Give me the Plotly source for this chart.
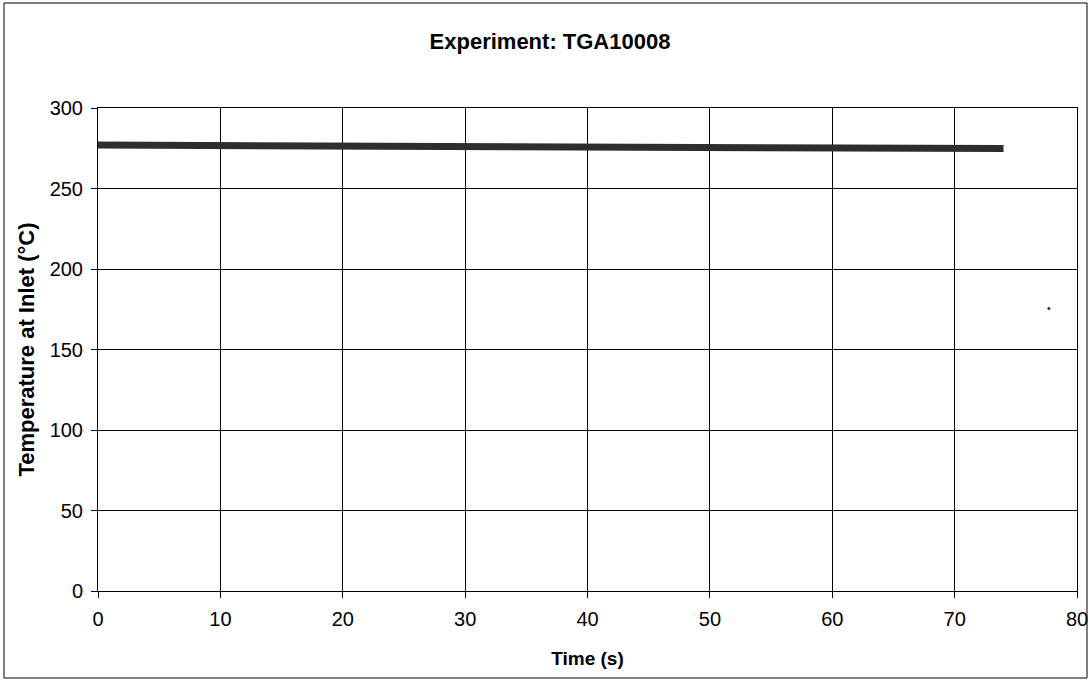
import plotly.graph_objects as go

time_s = [0, 5, 10, 15, 20, 25, 30, 35, 40, 45, 50, 55, 60, 65, 70, 72, 74]
temp_c = [277.0, 276.9, 276.8, 276.6, 276.5, 276.3, 276.2, 276.0, 275.9, 275.7, 275.5, 275.4, 275.3, 275.2, 275.0, 274.9, 274.8]
stray_x = [77.7]
stray_y = [175.5]

x_ticks = [0, 10, 20, 30, 40, 50, 60, 70, 80]
y_ticks = [0, 50, 100, 150, 200, 250, 300]

fig = go.Figure()
fig.add_trace(go.Scatter(x=time_s, y=temp_c, mode="lines",
                         line=dict(color="#2e2e2e", width=7), showlegend=False))
fig.add_trace(go.Scatter(x=stray_x, y=stray_y, mode="markers",
                         marker=dict(color="#333", size=3), showlegend=False))

font = "Liberation Sans, Arial, sans-serif"
L, R, T, B = 98, 14, 108, 89
fig.update_layout(
    width=1091, height=680,
    margin=dict(l=L, r=R, t=T, b=B, autoexpand=False),
    paper_bgcolor="white", plot_bgcolor="white",
    font=dict(family=font, color="black", size=20),
    title=dict(text="<b>Experiment: TGA10008</b>", x=550 / 1091, xanchor="center",
               xref="container", yref="container", y=1 - 41 / 680, yanchor="middle",
               font=dict(size=22, family=font)),
    xaxis=dict(range=[0, 80], tickvals=x_ticks, showgrid=True, gridcolor="black", gridwidth=1,
               showline=True, linecolor="black", linewidth=1, mirror=True, automargin=False,
               ticks="outside", ticklen=6, tickcolor="black", zeroline=False,
               tickfont=dict(size=20), ticklabelstandoff=4,
               title=dict(text="<b>Time (s)</b>", font=dict(size=19), standoff=22)),
    yaxis=dict(range=[0, 300], tickvals=y_ticks, showgrid=True, gridcolor="black", gridwidth=1,
               showline=True, linecolor="black", linewidth=1, mirror=True, automargin=False,
               ticks="outside", ticklen=6, tickcolor="black", zeroline=False,
               tickfont=dict(size=20), ticklabelstandoff=4,
               title=dict(text="<b>Temperature at Inlet (°C)</b>", font=dict(size=22), standoff=8)),
    shapes=[dict(type="rect", xref="paper", yref="paper",
                 x0=(4 - L) / (1091 - L - R), x1=(1087 - L) / (1091 - L - R),
                 y0=(680 - B - 678) / (680 - T - B), y1=(680 - B - 3) / (680 - T - B),
                 line=dict(color="black", width=1), fillcolor="rgba(0,0,0,0)", layer="below")],
)

fig.write_html("out.html")
